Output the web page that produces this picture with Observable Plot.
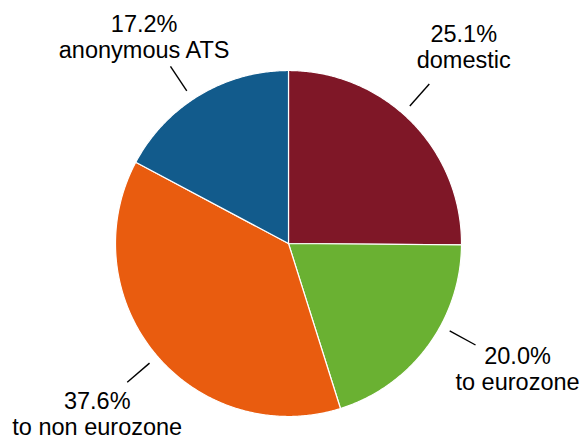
<!DOCTYPE html>
<html><head><meta charset="utf-8">
<script src="https://cdn.jsdelivr.net/npm/d3@7"></script>
<script src="https://cdn.jsdelivr.net/npm/@observablehq/plot@0.6"></script>
<style>body{margin:0;background:#fff}</style>
</head><body><div id="chart"></div>
<script>
const categories = ["domestic", "to eurozone", "to non eurozone", "anonymous ATS"];
const shares = [25.1, 20.0, 37.6, 17.2];
const pctLabels = ["25.1%", "20.0%", "37.6%", "17.2%"];
const sliceColors = ["#7f1727", "#6ab132", "#e95c0f", "#125b8c"];

// label layout nudges (degrees relative to slice mid-angle, radius in units of pie radius)
const tickShift = [-3.8, -8, -1, -2.7];
const textShift = [-2.4, -6.4, -3.2, -5.0];
const textRadius = [1.49, 1.53, 1.51, 1.42];

const W = 581, H = 439, cx = 288, cy = 243, R = 173;
const deg = Math.PI / 180;
const total = d3.sum(shares);
const slices = [];
let cum = 0;
shares.forEach((v, i) => {
  const a0 = cum / total * 2 * Math.PI;
  const a1 = (cum + v) / total * 2 * Math.PI;
  cum += v;
  slices.push({cat: categories[i], a0, a1, mid: (a0 + a1) / 2, label: pctLabels[i] + "\n" + categories[i]});
});

const poly = [];
for (const s of slices) {
  poly.push({cat: s.cat, x: 0, y: 0});
  const n = Math.max(2, Math.ceil((s.a1 - s.a0) / (Math.PI / 360)));
  for (let k = 0; k <= n; k++) {
    const a = s.a0 + (s.a1 - s.a0) * k / n;
    poly.push({cat: s.cat, x: Math.sin(a), y: Math.cos(a)});
  }
  poly.push({cat: s.cat, x: 0, y: 0});
}

const ticks = slices.map((s, i) => {
  const a = s.mid + tickShift[i] * deg;
  return {x1: 1.06 * Math.sin(a), y1: 1.06 * Math.cos(a), x2: 1.23 * Math.sin(a), y2: 1.23 * Math.cos(a)};
});
const texts = slices.map((s, i) => {
  const a = s.mid + textShift[i] * deg;
  const r = textRadius[i];
  return {x: r * Math.sin(a), y: r * Math.cos(a), label: s.label};
});

const chart = Plot.plot({
  width: W, height: H,
  marginTop: 0, marginRight: 0, marginBottom: 0, marginLeft: 0,
  x: {domain: [-1, 1], range: [cx - R, cx + R], axis: null},
  y: {domain: [-1, 1], range: [cy + R, cy - R], axis: null},
  color: {domain: categories, range: sliceColors},
  style: {fontFamily: "'Liberation Sans', Arial, Helvetica, sans-serif", background: "#fff"},
  marks: [
    Plot.line(poly, {x: "x", y: "y", z: "cat", fill: "cat", stroke: "#fff", strokeWidth: 1.2, curve: "linear"}),
    Plot.link(ticks, {x1: "x1", y1: "y1", x2: "x2", y2: "y2", stroke: "#000", strokeWidth: 1.4}),
    Plot.text(texts, {x: "x", y: "y", text: "label", fontSize: 23.5, lineHeight: 1.106, dy: -8, fill: "#000", textAnchor: "middle"})
  ]
});
document.getElementById("chart").appendChild(chart);
</script>
</body></html>
